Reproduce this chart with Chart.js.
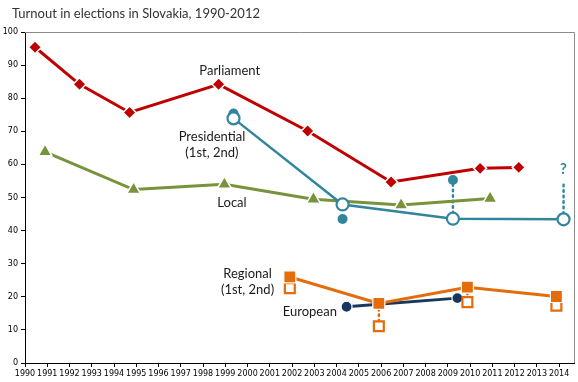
<!DOCTYPE html>
<html lang="en">
<head>
    <meta charset="UTF-8">
    <title>Turnout in elections in Slovakia, 1990-2012</title>
    <script src="https://cdn.jsdelivr.net/npm/chart.js"></script>
    <style>
        body { margin: 0; background: #fff; }
        #wrap { width: 578px; height: 382px; position: relative; }
    </style>
</head>
<body>
    <div id="wrap"><canvas id="myChart" width="578" height="382"></canvas></div>

    <script>
        // election dates as fractional years, turnout in %
        const years = [1990,1991,1992,1993,1994,1995,1996,1997,1998,1999,2000,2001,2002,
                       2003,2004,2005,2006,2007,2008,2009,2010,2011,2012,2013,2014];
        const yTicks = [0,10,20,30,40,50,60,70,80,90,100];

        const parliamentX = [1990.45, 1992.45, 1994.70, 1998.70, 2002.70, 2006.45, 2010.45, 2012.19];
        const parliamentY = [95.4, 84.2, 75.7, 84.2, 70.1, 54.7, 58.8, 59.1];

        const presidentX  = [1999.37, 2004.27, 2009.23, 2014.20];
        const president1Y = [73.9, 47.9, 43.6, 43.4];
        const president2Y = [75.4, 43.5, 55.3];

        const localX = [1990.90, 1994.88, 1998.96, 2002.96, 2006.90, 2010.90];
        const localY = [63.8, 52.4, 54.0, 49.5, 47.7, 49.7];

        const regionalX  = [2001.90, 2005.90, 2009.88, 2013.88];
        const regional1Y = [26.0, 18.0, 22.9, 20.1];
        const regional2Y = [22.6, 11.1, 18.4, 17.3];

        const europeanX = [2004.45, 2009.43];
        const europeanY = [17.0, 19.6];

        const presUnknownTop = 54.5;   // dotted stub with "?" (2nd round 2014 not known)

        const RED = '#C00000', TEAL = '#31859C', GREEN = '#77933C', ORANGE = '#E46C0A', NAVY = '#17375E';

        const pts = (xs, ys) => ys.map((y, i) => ({ x: xs[i], y: y }));

        const datasets = [
            // dotted connectors between 1st and 2nd round
            { data: [{ x: presidentX[2], y: president1Y[2] }, { x: presidentX[2], y: president2Y[2] }],
              borderColor: TEAL, borderWidth: 2.5, borderDash: [1.5, 4], borderCapStyle: 'round', pointRadius: 0, order: 10 },
            { data: [{ x: presidentX[3], y: president1Y[3] }, { x: presidentX[3], y: presUnknownTop }],
              borderColor: TEAL, borderWidth: 2.5, borderDash: [1.5, 4], borderCapStyle: 'round', pointRadius: 0, order: 10 },
            { data: [{ x: regionalX[1], y: regional1Y[1] }, { x: regionalX[1], y: regional2Y[1] }],
              borderColor: ORANGE, borderWidth: 2.5, borderDash: [1.5, 4], borderCapStyle: 'round', pointRadius: 0, order: 10 },
            { data: [{ x: regionalX[2], y: regional1Y[2] }, { x: regionalX[2], y: regional2Y[2] }],
              borderColor: ORANGE, borderWidth: 2.5, borderDash: [1.5, 4], borderCapStyle: 'round', pointRadius: 0, order: 10 },

            { label: 'Local', data: pts(localX, localY), borderColor: GREEN, backgroundColor: GREEN,
              borderWidth: 3, pointStyle: 'triangle', pointRadius: 8, pointBorderColor: '#fff', pointBorderWidth: 1.5, order: 6 },
            { label: 'Parliament', data: pts(parliamentX, parliamentY), borderColor: RED, backgroundColor: RED,
              borderWidth: 3, pointStyle: 'rectRot', pointRadius: 6.5, pointBorderColor: '#fff', pointBorderWidth: 1.5, order: 5 },
            { label: 'Presidential 2nd', data: pts(presidentX, president2Y), showLine: false, backgroundColor: TEAL,
              pointStyle: 'circle', pointRadius: 5, pointBorderColor: TEAL, pointBorderWidth: 0, order: 4 },
            { label: 'Presidential 1st', data: pts(presidentX, president1Y), borderColor: TEAL, backgroundColor: '#fff',
              borderWidth: 2.5, pointStyle: 'circle', pointRadius: 6, pointBorderColor: TEAL, pointBorderWidth: 2.2, order: 3 },
            { label: 'European', data: pts(europeanX, europeanY), borderColor: NAVY, backgroundColor: NAVY,
              borderWidth: 3, pointStyle: 'circle', pointRadius: 5.5, pointBorderColor: '#fff', pointBorderWidth: 1.2, order: 2 },
            { label: 'Regional 2nd', data: pts(regionalX, regional2Y), showLine: false, backgroundColor: '#fff',
              pointStyle: 'rect', pointRadius: 7, pointBorderColor: ORANGE, pointBorderWidth: 2.2, order: 1 },
            { label: 'Regional 1st', data: pts(regionalX, regional1Y), borderColor: ORANGE, backgroundColor: ORANGE,
              borderWidth: 3, pointStyle: 'rect', pointRadius: 8.5, pointBorderColor: '#fff', pointBorderWidth: 1.2, order: 0 }
        ];

        const labels = [
            { text: 'Parliament', x: 1999.2, y: 88.3 },
            { text: 'Presidential', x: 1998.4, y: 68.3 },
            { text: '(1st, 2nd)', x: 1998.4, y: 63.4 },
            { text: 'Local', x: 1999.3, y: 48.3 },
            { text: 'Regional', x: 2000.0, y: 26.9 },
            { text: '(1st, 2nd)', x: 2000.0, y: 22.1 },
            { text: 'European', x: 2002.8, y: 15.4 }
        ];

        const extras = {
            id: 'extras',
            beforeDatasetsDraw(chart) {
                const { ctx, chartArea: a } = chart;
                ctx.save();
                ctx.strokeStyle = '#8c8c8c';
                ctx.lineWidth = 1;
                ctx.beginPath();
                ctx.moveTo(a.left, a.top + 0.5);
                ctx.lineTo(a.right + 0.5, a.top + 0.5);
                ctx.lineTo(a.right + 0.5, a.bottom);
                ctx.stroke();
                ctx.restore();
            },
            afterDraw(chart) {
                const { ctx } = chart;
                const xs = chart.scales.x, ys = chart.scales.y;
                ctx.save();
                ctx.fillStyle = '#333';
                ctx.font = '13px Lato, "Open Sans", sans-serif';
                ctx.textAlign = 'left';
                ctx.textBaseline = 'middle';
                ctx.fillText('Turnout in elections in Slovakia, 1990-2012', 12, 14);

                ctx.fillStyle = '#1a1a1a';
                ctx.textAlign = 'center';
                labels.forEach(l => ctx.fillText(l.text, xs.getPixelForValue(l.x), ys.getPixelForValue(l.y)));

                ctx.fillStyle = TEAL;
                ctx.font = 'bold 15px Lato, sans-serif';
                ctx.fillText('?', xs.getPixelForValue(presidentX[3]), ys.getPixelForValue(presUnknownTop + 4));
                ctx.restore();
            }
        };

        new Chart(document.getElementById('myChart'), {
            type: 'line',
            data: { datasets: datasets },
            plugins: [extras],
            options: {
                responsive: false,
                animation: false,
                layout: { autoPadding: false, padding: { top: 32, right: 4, left: 0, bottom: 0 } },
                plugins: { legend: { display: false }, tooltip: { enabled: false } },
                elements: { line: { tension: 0 } },
                scales: {
                    x: {
                        type: 'linear', min: 1990, max: 2014.67,
                        afterBuildTicks: s => { s.ticks = years.map(v => ({ value: v })); },
                        afterFit: s => { s.height = 19; s.paddingLeft = 0; s.paddingRight = 0; },
                        grid: { drawOnChartArea: false, color: '#000', tickLength: 4 },
                        border: { color: '#000', width: 1 },
                        ticks: { color: '#000', font: { family: 'DejaVu Sans', size: 8 }, padding: 2,
                                 maxRotation: 0, autoSkip: false, callback: v => String(v) }
                    },
                    y: {
                        min: 0, max: 100,
                        afterBuildTicks: s => { s.ticks = yTicks.map(v => ({ value: v })); },
                        afterFit: s => { s.width = 25; },
                        grid: { drawOnChartArea: false, color: '#000', tickLength: 4 },
                        border: { color: '#000', width: 1 },
                        ticks: { color: '#000', font: { family: 'DejaVu Sans', size: 8 }, padding: 3 }
                    }
                }
            }
        });
    </script>
</body>
</html>
